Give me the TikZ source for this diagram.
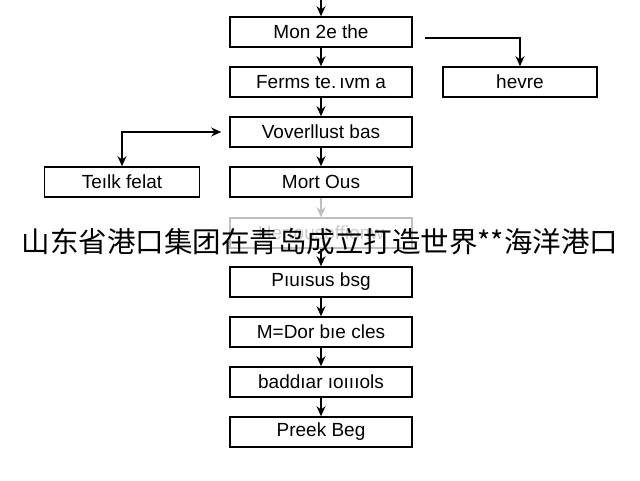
\documentclass[tikz,border=0pt]{standalone}
\usepackage{fontspec}
\setmainfont{Liberation Sans}
\newfontfamily\cjk{Noto Sans CJK SC}
\usetikzlibrary{arrows.meta}
\begin{document}
\begin{tikzpicture}[x=1pt,y=-1pt,
  box/.style={draw,line width=1.6pt,minimum width=182pt,minimum height=30pt,inner sep=0pt,font=\fontsize{19}{19}\selectfont},
  conn/.style={line width=1.4pt,-{Stealth[length=10pt,width=9pt]}}]
\useasboundingbox[fill=white] (0,0) rectangle (640,480);
\coordinate (top) at (321,0);
\node[box] (b1) at (321,32) {Mon 2e the};
\node[box] (b2) at (321,82) {Ferms te.\,ıvm a};
\node[box] (b3) at (321,132) {Voverllust bas};
\node[box] (b4) at (321,182) {Mort Ous};
\node[box,draw=black!25,text=black!20] (b5) at (321,233) {Hertousoffionw};
\node[box] (b6) at (321,282) {Pıuısus bsg};
\node[box] (b7) at (321,332) {M=Dor bıe cles};
\node[box] (b8) at (321,382) {baddıar ıoıııols};
\node[box] (b9) at (321,432) {Preek Beg};
\node[box,minimum width=154pt] (r) at (520,82) {hevre};
\node[box,minimum width=155pt] (l) at (122,182) {Teılk felat};
\draw[conn] (top) -- (b1);
\draw[conn] (b1) -- (b2);
\draw[conn] (b2) -- (b3);
\draw[conn] (b3) -- (b4);
\draw[conn,draw=black!25] (b4) -- (b5);
\draw[conn] (b5) -- (b6);
\draw[conn] (b6) -- (b7);
\draw[conn] (b7) -- (b8);
\draw[conn] (b8) -- (b9);
\coordinate (rs) at (425,38);
\draw[conn] (rs) -| (r.north);
\draw[line width=1.4pt,{Stealth[length=10pt,width=9pt]}-{Stealth[length=10pt,width=9pt]}] (l.north) |- ([xshift=-8pt]b3.west);
\node[font=\cjk\fontsize{28.5}{28.5}\selectfont] (cap) at (320,242) {山东省港口集团在青岛成立打造世界**海洋港口};
\end{tikzpicture}
\end{document}
